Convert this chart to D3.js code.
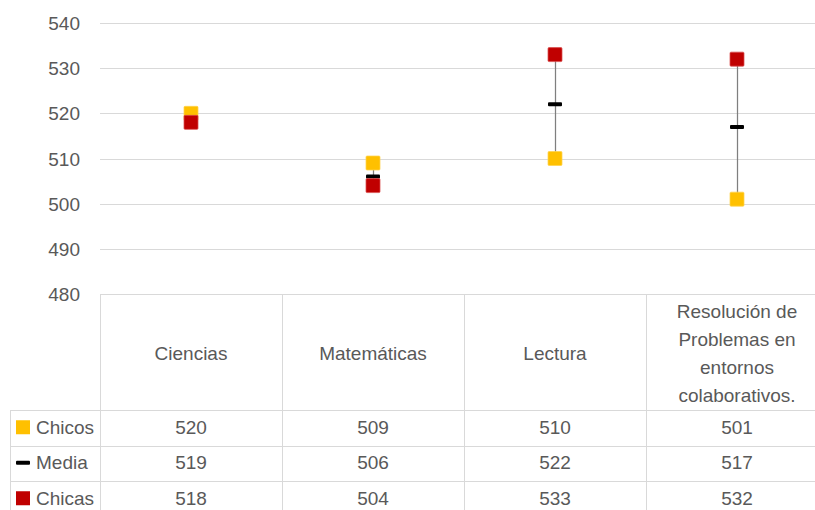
<!DOCTYPE html>
<html><head><meta charset="utf-8">
<script src="https://cdn.jsdelivr.net/npm/d3@7"></script>
<style>body{margin:0;background:#fff}svg{display:block}</style>
</head><body>
<svg id="c" width="815" height="510"></svg>
<script>
const categories = ["Ciencias","Matemáticas","Lectura","Resolución de\nProblemas en\nentornos\ncolaborativos."];
const chicos = [520,509,510,501];
const media  = [519,506,522,517];
const chicas = [518,504,533,532];
const yTicks = [480,490,500,510,520,530,540];
const seriesNames = ["Chicos","Media","Chicas"];

const svg = d3.select("#c");
const font = "'Liberation Sans', Arial, sans-serif";
const txt = "#595959", grid = "#d9d9d9";
const y = d3.scaleLinear().domain([480,540]).range([294,23]);
const x = d3.scaleBand().domain(categories).range([100,828]).paddingInner(0).paddingOuter(0);
const cx = c => x(c) + x.bandwidth()/2;

// gridlines
svg.append("g").selectAll("line").data(yTicks).join("line")
  .attr("x1",100).attr("x2",815).attr("y1",d=>Math.round(y(d))+0.5).attr("y2",d=>Math.round(y(d))+0.5)
  .attr("stroke",grid).attr("stroke-width",1);
// y axis labels
const yAxis = d3.axisLeft(y).tickValues(yTicks).tickSize(0).tickPadding(0);
const ga = svg.append("g").attr("transform","translate(80,0)").call(yAxis);
ga.select(".domain").remove();
ga.selectAll("text").attr("font-family",font).attr("font-size",19).attr("fill",txt).attr("dy","0.35em");

// table
const rowTop = 410, rowH = 35.5;
const tg = svg.append("g").attr("stroke",grid).attr("stroke-width",1).attr("fill","none");
categories.forEach(c=>{
  const xx = Math.round(x(c))+0.5;
  tg.append("line").attr("x1",xx).attr("x2",xx).attr("y1",294).attr("y2",510);
});
tg.append("line").attr("x1",10.5).attr("x2",10.5).attr("y1",rowTop).attr("y2",510);
[0,1,2].forEach(i=>{
  const yy = Math.round(rowTop + i*rowH)+0.5;
  tg.append("line").attr("x1",10).attr("x2",815).attr("y1",yy).attr("y2",yy);
});

// header labels
categories.forEach(c=>{
  const lines = c.split("\n");
  const lh = 28, center = 353;
  const t = svg.append("text").attr("font-family",font).attr("font-size",19).attr("fill",txt)
    .attr("text-anchor","middle");
  lines.forEach((l,i)=>{
    t.append("tspan").attr("x",cx(c)).attr("y",center + (i-(lines.length-1)/2)*lh).attr("dy","0.35em").text(l);
  });
});

// table values
const seriesData = [chicos, media, chicas];
seriesData.forEach((arr,r)=>{
  const yy = rowTop + r*rowH + rowH/2 - 0.5;
  arr.forEach((v,i)=>{
    svg.append("text").attr("x",cx(categories[i])).attr("y",yy).attr("dy","0.35em")
      .attr("text-anchor","middle").attr("font-family",font).attr("font-size",19).attr("fill",txt).text(v);
  });
  const lx = 16;
  if (r===1) svg.append("rect").attr("x",lx).attr("y",yy-2).attr("width",14).attr("height",4).attr("rx",1).attr("fill","#000");
  else svg.append("rect").attr("x",lx).attr("y",yy-7).attr("width",14).attr("height",14).attr("fill", r===0?"#FFC000":"#C00000");
  svg.append("text").attr("x",36).attr("y",yy).attr("dy","0.35em").attr("font-family",font).attr("font-size",19).attr("fill",txt).text(seriesNames[r]);
});

// hi-low lines
svg.append("g").selectAll("line").data(categories).join("line")
  .attr("x1",(c)=>Math.round(cx(c))+0.5).attr("x2",(c)=>Math.round(cx(c))+0.5)
  .attr("y1",(c,i)=>y(chicos[i])).attr("y2",(c,i)=>y(chicas[i]))
  .attr("stroke","#7f7f7f").attr("stroke-width",1.25);
// media dashes
svg.append("g").selectAll("rect").data(categories).join("rect")
  .attr("x",c=>cx(c)-7).attr("y",(c,i)=>y(media[i])-2).attr("width",14).attr("height",4).attr("rx",1)
  .attr("fill","#000");
// squares
[[chicos,"#FFC000","#ffd34d"],[chicas,"#C00000","#d94d4d"]].forEach(([arr,col,st])=>{
  svg.append("g").selectAll("rect").data(categories).join("rect")
    .attr("x",c=>cx(c)-7).attr("y",(c,i)=>y(arr[i])-7).attr("width",14).attr("height",14).attr("rx",1)
    .attr("fill",col).attr("stroke",st).attr("stroke-width",0.75);
});
</script>
</body></html>
